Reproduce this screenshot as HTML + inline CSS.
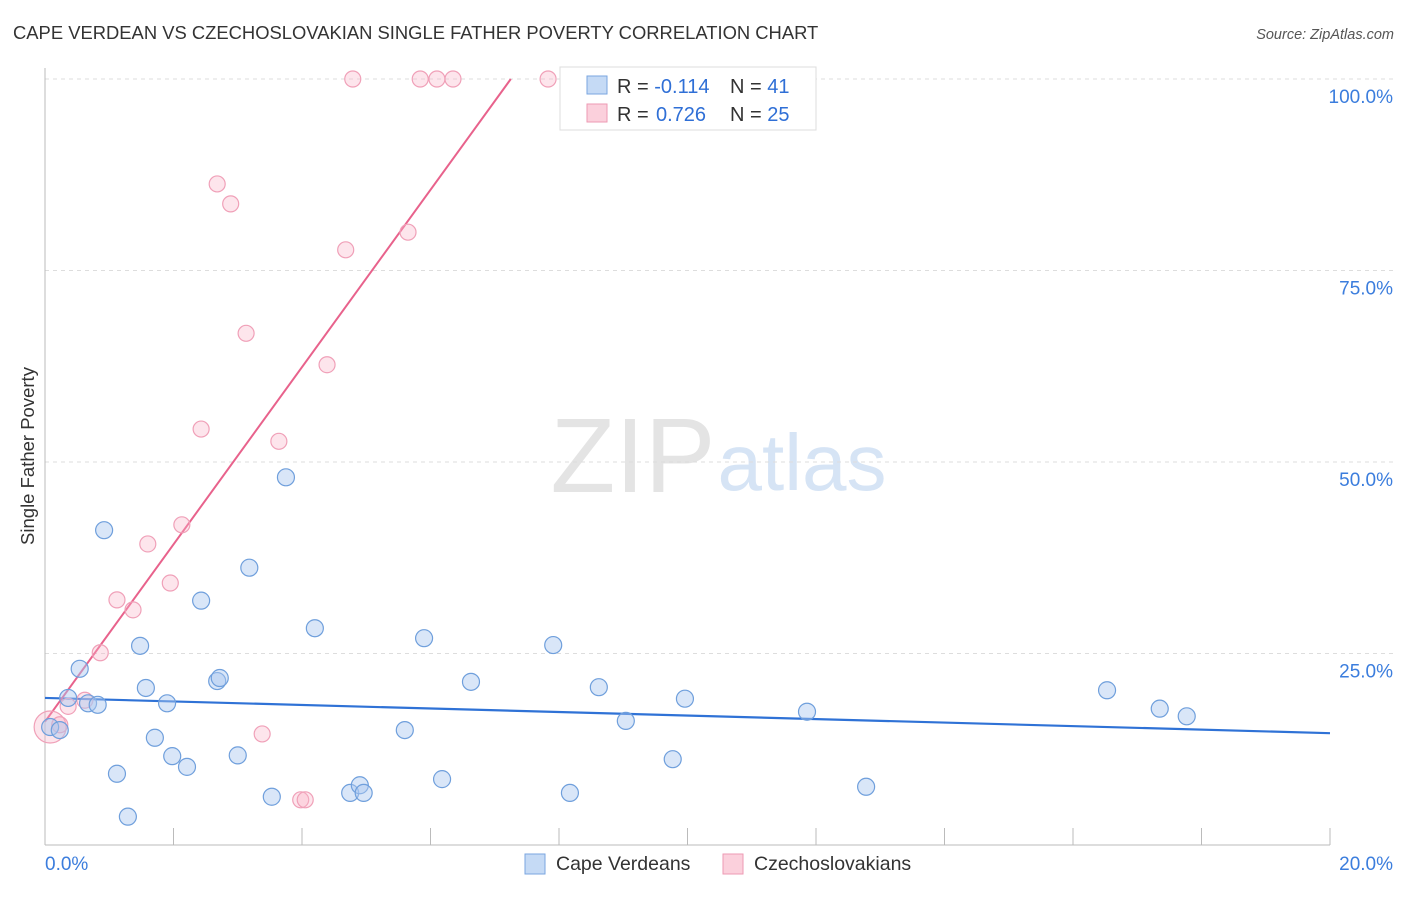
<!DOCTYPE html>
<html><head><meta charset="utf-8"><style>
body{margin:0;background:#fff;font-family:"Liberation Sans",sans-serif}
svg text{font-family:"Liberation Sans",sans-serif}
</style></head><body>
<svg id="chart" width="1406" height="892">
<text x="13" y="39" font-size="18.4" fill="#333">CAPE VERDEAN VS CZECHOSLOVAKIAN SINGLE FATHER POVERTY CORRELATION CHART</text>
<text x="1394" y="39" font-size="14.5" fill="#555" font-style="italic" text-anchor="end">Source: ZipAtlas.com</text>
<g><text x="633" y="492" font-size="106" fill="#e4e4e4" font-family="Liberation Serif" text-anchor="middle">ZIP</text><text x="802" y="490" font-size="80" fill="#d6e4f5" text-anchor="middle">atlas</text></g>
<g id="grid"></g><g id="axes"></g><g id="trends"></g><g id="points"></g>
<text transform="translate(34,456) rotate(-90)" font-size="18.5" fill="#333" text-anchor="middle">Single Father Poverty</text>
<g>
<rect x="560" y="67" width="256" height="63" fill="#fff" stroke="#ddd"/>
<rect x="587" y="76" width="20" height="18" fill="#c5daf5" stroke="#7aa6e0"/>
<rect x="587" y="104" width="20" height="18" fill="#fbd0dc" stroke="#ee9ab3"/>
<text x="617" y="93" font-size="20" fill="#333">R = <tspan fill="#2f6fd6">-0.114</tspan><tspan x="730">N = </tspan><tspan fill="#2f6fd6">41</tspan></text>
<text x="617" y="121" font-size="20" fill="#333">R = <tspan fill="#2f6fd6" x="656">0.726</tspan><tspan x="730">N = </tspan><tspan fill="#2f6fd6">25</tspan></text>
</g>
<g>
<rect x="525" y="854" width="20" height="20" fill="#c5daf5" stroke="#7aa6e0"/>
<text x="556" y="870" font-size="19.5" fill="#333">Cape Verdeans</text>
<rect x="723" y="854" width="20" height="20" fill="#fbd0dc" stroke="#ee9ab3"/>
<text x="754" y="870" font-size="19.5" fill="#333">Czechoslovakians</text>
</g>
</svg>
<script>
const xTicks=[0,2,4,6,8,10,12,14,16,18,20];
const yTicks=[25,50,75,100];
const yTickLabels=["25.0%","50.0%","75.0%","100.0%"];
const xEndLabels=["0.0%","20.0%"];
const blueX=[0.08,0.23,0.36,0.54,0.67,0.82,0.92,1.12,1.29,1.48,1.57,1.71,1.90,1.98,2.21,2.43,2.68,2.72,3.00,3.18,3.53,3.75,4.20,4.75,4.90,4.96,5.60,5.90,6.18,6.63,7.91,8.17,8.62,9.04,9.77,9.96,11.86,12.78,16.53,17.35,17.77];
const blueY=[15.4,15.0,19.2,23.0,18.5,18.3,41.1,9.3,3.7,26.0,20.5,14.0,18.5,11.6,10.2,31.9,21.4,21.8,11.7,36.2,6.3,48.0,28.3,6.8,7.8,6.8,15.0,27.0,8.6,21.3,26.1,6.8,20.6,16.2,11.2,19.1,17.4,7.6,20.2,17.8,16.8];
const pinkX=[0.08,0.23,0.36,0.62,0.86,1.12,1.37,1.60,1.95,2.13,2.43,2.68,2.89,3.13,3.38,3.64,3.98,4.05,4.39,4.68,4.79,5.65,5.84,6.10,6.35,7.83];
const pinkY=[15.4,15.7,18.1,18.9,25.1,32.0,30.7,39.3,34.2,41.8,54.3,86.3,83.7,66.8,14.5,52.7,5.9,5.9,62.7,77.7,100,80.0,100,100,100,100];
const pinkR=[16,8,8,8,8,8,8,8,8,8,8,8,8,8,8,8,8,8,8,8,8,8,8,8,8,8];
const blueTrend=[19.2,14.6];
const pinkTrend=[16.1,100,7.25];
const NS="http://www.w3.org/2000/svg";
const sx=v=>45+v/20*1285, sy=v=>845-v/100*766;
function mk(p,t,a){const e=document.createElementNS(NS,t);for(const k in a)e.setAttribute(k,a[k]);p.appendChild(e);return e;}
const grid=document.getElementById('grid'),axes=document.getElementById('axes');
yTicks.forEach((v,i)=>{
 const l=mk(grid,'line',{x1:45,x2:1394,y1:sy(v),y2:sy(v),stroke:'#ddd','stroke-dasharray':'4,4'});
 
 
 const t=mk(axes,'text',{x:1393,y:sy(v)+24,'font-size':19,fill:'#3b7ddd','text-anchor':'end'});t.textContent=yTickLabels[i];
 
 
});
mk(axes,'line',{x1:45,x2:45,y1:68,y2:845,stroke:'#bbb'});
mk(axes,'line',{x1:45,x2:1330,y1:845,y2:845,stroke:'#bbb'});
xTicks.forEach(v=>{const l=mk(axes,'line',{x1:sx(v),x2:sx(v),y1:828,y2:845,stroke:'#bbb'});
 
 });
let t=mk(axes,'text',{x:45,y:870,'font-size':19,fill:'#3b7ddd'});t.textContent=xEndLabels[0];


t=mk(axes,'text',{x:1393,y:870,'font-size':19,fill:'#3b7ddd','text-anchor':'end'});t.textContent=xEndLabels[1];


const pts=document.getElementById('points'),tr=document.getElementById('trends');
pinkX.forEach((x,i)=>{const c=mk(pts,'circle',{cx:sx(x),cy:sy(pinkY[i]),r:pinkR[i],fill:'rgba(248,180,200,0.35)',stroke:'#f0a0b8','stroke-width':1.2});
 
 });
blueX.forEach((x,i)=>{const c=mk(pts,'circle',{cx:sx(x),cy:sy(blueY[i]),r:8.5,fill:'rgba(170,200,240,0.45)',stroke:'#6f9fdc','stroke-width':1.2});
 
 });
let l=mk(tr,'line',{x1:sx(0),y1:sy(blueTrend[0]),x2:sx(20),y2:sy(blueTrend[1]),stroke:'#2f72d6','stroke-width':2.2});


l=mk(tr,'line',{x1:sx(0),y1:sy(pinkTrend[0]),x2:sx(pinkTrend[2]),y2:sy(pinkTrend[1]),stroke:'#e8628c','stroke-width':2});


</script>
</body></html>
